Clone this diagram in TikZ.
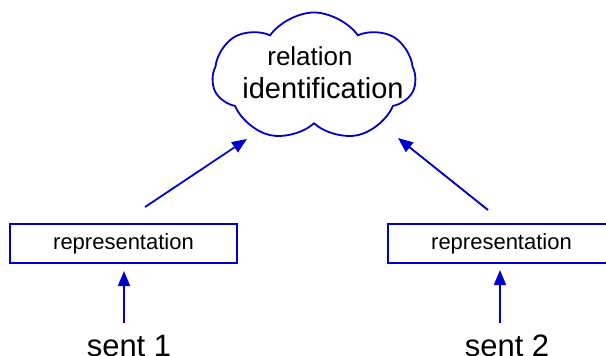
\documentclass[tikz,border=0pt]{standalone}
\usepackage{fontspec}
\setmainfont{Liberation Sans}
\usetikzlibrary{shapes.symbols,arrows.meta}
\definecolor{linkblue}{RGB}{0,0,204}
\tikzset{
  repbox/.style={draw=linkblue, line width=1.8pt, minimum width=227pt,
    minimum height=39pt, inner sep=0pt, font=\fontsize{22}{26}\selectfont},
  sentlabel/.style={anchor=base, inner sep=0pt, font=\fontsize{31}{36}\selectfont},
  feed/.style={draw=linkblue, line width=1.8pt, -{Triangle[length=15pt,width=12pt]}},
}
\begin{document}
\begin{tikzpicture}[x=1pt,y=-1pt]
  \useasboundingbox (0,0) rectangle (606,356);
  % cloud on top
  \node[cloud, cloud puffs=7, cloud puff arc=110, cloud ignores aspect, draw=linkblue,
    line width=1.8pt, minimum width=203pt, minimum height=129pt, inner sep=0pt,
    shape border rotate=10] (rel) at (314,77) {};
  \node[anchor=base, inner sep=0pt, font=\fontsize{26}{30}\selectfont] (relA) at (310,65) {relation};
  \node[anchor=base, inner sep=0pt, font=\fontsize{29}{34}\selectfont] (relB) at (323,98) {identification};
  % the two sentences
  \node[repbox] (rep1) at (123.5,243.5) {representation};
  \node[repbox] (rep2) at (501.5,243.5) {representation};
  \node[sentlabel] (s1) at (129,356) {sent 1};
  \node[sentlabel] (s2) at (507,356) {sent 2};
  \coordinate (up1) at (145,207);
  \coordinate (up2) at (488,210);
  \coordinate (in1) at (247,139);
  \coordinate (in2) at (398,138);
  \begin{scope}[feed]
    \draw (124,323) to (124,271);
    \draw (500,323) to (500,270);
    \draw (up1) to (in1);
    \draw (up2) to (in2);
  \end{scope}
\end{tikzpicture}
\end{document}
